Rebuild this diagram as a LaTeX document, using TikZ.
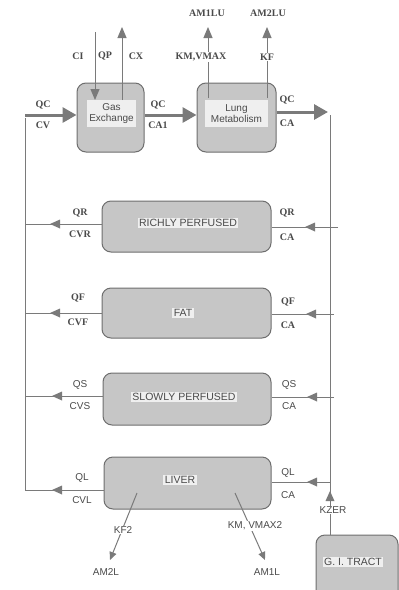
\documentclass[tikz,border=0pt]{standalone}
\usepackage{fontspec}
\setmainfont{Liberation Serif}
\setsansfont{Liberation Sans}
\usetikzlibrary{arrows.meta}
\definecolor{boxfill}{HTML}{C6C6C6}
\definecolor{boxline}{HTML}{6E6E6E}
\definecolor{lblbg}{HTML}{EFEFEF}
\definecolor{ink}{HTML}{4A4A4A}
\definecolor{linegray}{HTML}{7A7A7A}
\tikzset{
 organ/.style={draw=boxline, fill=boxfill, line width=1pt, rounded corners=9pt, inner sep=0pt},
 tag/.style={fill=lblbg, text=ink, font=\sffamily\fontsize{10.5}{11.5}\selectfont, inner sep=1.5pt, align=center},
 ser/.style={text=ink, font=\fontsize{10}{11}\selectfont\bfseries, inner sep=1pt},
 san/.style={text=ink, font=\sffamily\fontsize{10}{11}\selectfont, inner sep=1pt},
 link/.style={color=linegray, line width=1pt},
 bigarrow/.style={color=linegray, line width=3pt, -{Triangle[length=14pt,width=15pt]}},
 thinarrow/.style={color=linegray, line width=1pt, -{Triangle[length=11pt,width=9pt]}},
 headL/.style={fill=linegray},
}
\begin{document}
\begin{tikzpicture}[x=1pt,y=-1pt]
\useasboundingbox (0,0) rectangle (399,590);
\clip (0,0) rectangle (399,590);

% organ boxes
\node[organ, minimum width=67pt, minimum height=69pt] (gas) at (110.5,117.5) {};
\node[organ, minimum width=79pt, minimum height=69pt] (lung) at (236.5,117.5) {};
\node[organ, minimum width=169pt, minimum height=51pt] (rich) at (186.5,226.5) {};
\node[organ, minimum width=169pt, minimum height=50pt] (fat) at (186.5,313) {};
\node[organ, minimum width=168pt, minimum height=52pt] (slow) at (187,399) {};
\node[organ, minimum width=167pt, minimum height=52pt] (liver) at (187.5,483) {};
\node[organ, minimum width=82pt, minimum height=66pt] (gi) at (357,568) {};

% inner labels
\node[tag, minimum width=49pt, minimum height=27pt, font=\sffamily\fontsize{10}{11}\selectfont] (gasT) at (111.5,113.5) {Gas\\Exchange};
\node[tag, minimum width=63pt, minimum height=27pt, font=\sffamily\fontsize{10}{11}\selectfont] (lungT) at (236.5,113.5) {Lung\\Metabolism};
\node[tag] (richT) at (188,223) {RICHLY PERFUSED};
\node[tag] (fatT) at (183,313) {FAT};
\node[tag] (slowT) at (184,397) {SLOWLY PERFUSED};
\node[tag] (liverT) at (180,480) {LIVER};
\node[tag] (giT) at (353,562) {G. I. TRACT};

% coordinates
\coordinate (lTop) at (25,115);
\coordinate (lBot) at (25,490);
\coordinate (rTop) at (330,115);
\coordinate (rJ) at (330,482);
\coordinate (rR) at (338,227);
\coordinate (fR) at (334,314);
\coordinate (sR) at (334,397);
\coordinate (lR) at (25,224);
\coordinate (lF) at (25,313);
\coordinate (lS) at (25,396);
\coordinate (ciA) at (95,32);
\coordinate (ciB) at (95,100);
\coordinate (cxA) at (122,100);
\coordinate (cxB) at (122,27);
\coordinate (m1A) at (208,98);
\coordinate (m1B) at (208,27);
\coordinate (m2A) at (267,98);
\coordinate (m2B) at (267,27);
\coordinate (lv1A) at (137,493);
\coordinate (lv1B) at (110,560);
\coordinate (lv2A) at (235,493);
\coordinate (lv2B) at (265,560);
\coordinate (giTop) at (330,535);

% main circulation
\draw[bigarrow] (lTop) -- (gas.west |- lTop);
\draw[bigarrow] (gas.east |- lTop) -- (lung.west |- lTop);
\draw[bigarrow] (lung.east |- 0,112) -- (328,112);
\draw[link] (lBot) -- (25,118);
\draw[link] (rTop) -- (rJ);

% branches (lines, then arrowheads pointing left)
\draw[link] (rich.west |- lR) -- (lR);
\draw[link] (rR) -- (rich.east |- rR);
\draw[link] (fat.west |- lF) -- (lF);
\draw[link] (fR) -- (fat.east |- fR);
\draw[link] (slow.west |- lS) -- (lS);
\draw[link] (sR) -- (slow.east |- sR);
\draw[link] (liver.west |- lBot) -- (lBot);
\draw[link] (rJ) -- (liver.east |- rJ);
\draw[link] (giTop) -- (rJ);
\foreach \px/\py in {50/224,305/227,50/313,306/314,52/396,307/397,52/490,307/482}
  \fill[headL] (\px,\py) -- ++(10,-4.5) -- ++(0,9) -- cycle;
\fill[headL] (330,491) -- ++(-4.5,10) -- ++(9,0) -- cycle;

% gas exchange and metabolism in/out
\draw[thinarrow] (ciA) -- (ciB);
\draw[thinarrow] (cxA) -- (cxB);
\draw[thinarrow] (m1A) -- (m1B);
\draw[thinarrow] (m2A) -- (m2B);
\draw[thinarrow, -{Triangle[length=8pt,width=7pt]}] (lv1A) -- (lv1B);
\draw[thinarrow, -{Triangle[length=8pt,width=7pt]}] (lv2A) -- (lv2B);

% top labels
\node[ser] (ci) at (78,56) {CI};
\node[ser] (qp) at (105,56) {QP};
\node[ser] (cx) at (136,56) {CX};
\node[ser, fill=white] (kmv) at (201,57) {KM,VMAX};
\node[ser, fill=white] (kf) at (267,57) {KF};
\node[ser] (am1lu) at (207,13) {AM1LU};
\node[ser] (am2lu) at (268,13) {AM2LU};
\node[ser] (qc1) at (43,105) {QC};
\node[ser] (cv) at (43,125) {CV};
\node[ser] (qc2) at (158,105) {QC};
\node[ser] (ca1) at (158,125) {CA1};
\node[ser] (qc3) at (287,100) {QC};
\node[ser] (ca0) at (287,123) {CA};

% branch labels
\node[ser] (qrL) at (80,213) {QR};
\node[ser] (cvr) at (80,234) {CVR};
\node[ser] (qrR) at (287,213) {QR};
\node[ser] (caR) at (287,237) {CA};
\node[ser] (qfL) at (78,298) {QF};
\node[ser] (cvf) at (78,322) {CVF};
\node[ser] (qfR) at (288,302) {QF};
\node[ser] (caF) at (288,325) {CA};
\node[san] (qsL) at (80,385) {QS};
\node[san] (cvs) at (80,406) {CVS};
\node[san] (qsR) at (289,385) {QS};
\node[san] (caS) at (289,406) {CA};
\node[san] (qlL) at (82,478) {QL};
\node[san] (cvl) at (82,500) {CVL};
\node[san] (qlR) at (288,473) {QL};
\node[san] (caL) at (288,495) {CA};
\node[san, fill=white] (kzer) at (333,510) {KZER};
\node[san, fill=white] (kf2) at (123,530) {KF2};
\node[san, fill=white] (kmv2) at (255,526) {KM, VMAX2};
\node[san] (am2l) at (106,572) {AM2L};
\node[san] (am1l) at (267,572) {AM1L};
\end{tikzpicture}
\end{document}
